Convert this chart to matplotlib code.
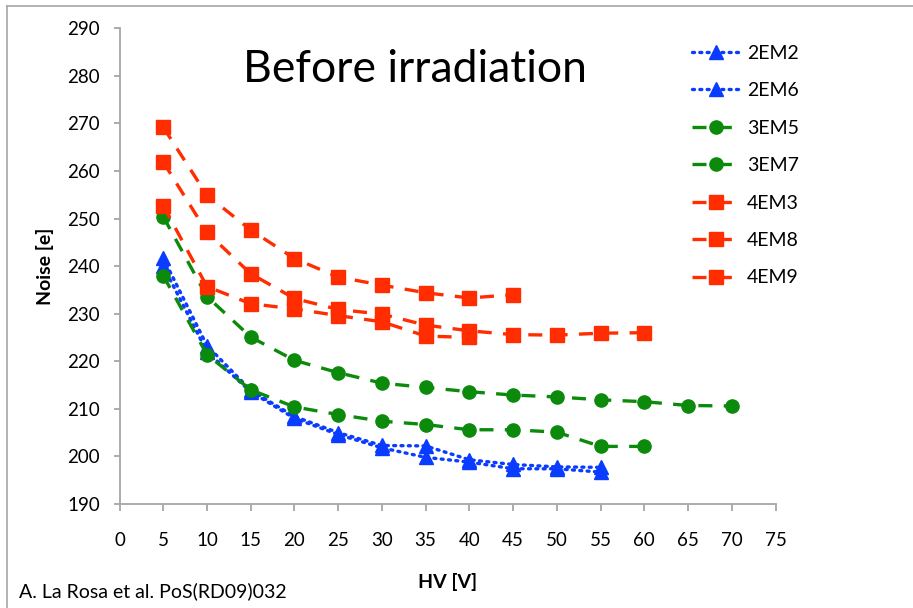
import numpy as np
import matplotlib.pyplot as plt
from matplotlib.lines import Line2D

plt.rcParams['font.family'] = ['Lato', 'DejaVu Sans']

# HV points [V]
hv_55 = [5, 10, 15, 20, 25, 30, 35, 40, 45, 50, 55]
hv_60 = [5, 10, 15, 20, 25, 30, 35, 40, 45, 50, 55, 60]
hv_70 = [5, 10, 15, 20, 25, 30, 35, 40, 45, 50, 55, 60, 65, 70]
hv_45 = [5, 10, 15, 20, 25, 30, 35, 40, 45]
hv_40 = [5, 10, 15, 20, 25, 30, 35, 40]

# noise [e]
em2_2 = [241.7, 223.3, 213.9, 208.4, 205.0, 202.3, 202.2, 199.3, 198.3, 197.8, 197.7]
em2_6 = [240.0, 222.0, 213.6, 208.0, 204.6, 201.8, 199.8, 198.8, 197.4, 197.4, 196.7]
em3_5 = [250.4, 233.6, 225.1, 220.2, 217.6, 215.4, 214.5, 213.6, 212.9, 212.5, 211.9, 211.5, 210.7, 210.6]
em3_7 = [238.0, 221.4, 214.0, 210.4, 208.8, 207.4, 206.7, 205.6, 205.6, 205.1, 202.1, 202.1]
em4_3 = [269.2, 254.9, 247.6, 241.6, 237.7, 236.0, 234.4, 233.3, 234.0]
em4_8 = [261.9, 247.1, 238.4, 233.2, 230.9, 229.9, 227.6, 226.4, 225.6, 225.5, 225.9, 226.0]
em4_9 = [252.7, 235.7, 232.1, 231.0, 229.6, 228.3, 225.3, 225.0]

blue = '#0a3cff'
green = '#0b8a0b'
red = '#ff2d00'

fig = plt.figure(figsize=(9.13, 6.08), dpi=100)
ax = fig.add_axes([0.1309, 0.1711, 0.7185, 0.7824])

dot = dict(linestyle=(0, (0.6, 1.6)), linewidth=2.4, dash_capstyle='round', marker='^', markersize=10)
dash = dict(linestyle=(0, (4.2, 3.4)), linewidth=2.4)

ax.plot(hv_55, em2_2, color=blue, label='2EM2', **dot)
ax.plot(hv_55, em2_6, color=blue, label='2EM6', **dot)
ax.plot(hv_70, em3_5, color=green, marker='o', markersize=9.5, label='3EM5', **dash)
ax.plot(hv_60, em3_7, color=green, marker='o', markersize=9.5, label='3EM7', **dash)
ax.plot(hv_45, em4_3, color=red, marker='s', markersize=9.5, label='4EM3', **dash)
ax.plot(hv_60, em4_8, color=red, marker='s', markersize=9.5, label='4EM8', **dash)
ax.plot(hv_40, em4_9, color=red, marker='s', markersize=9.5, label='4EM9', **dash)

ax.set_xlim(0, 75)
ax.set_ylim(190, 290)
ax.set_xticks(np.arange(0, 80, 5))
ax.set_yticks(np.arange(190, 300, 10))
for s in ['top', 'right']:
    ax.spines[s].set_visible(False)
for s in ['left', 'bottom']:
    ax.spines[s].set_color('#a6a6a6')
    ax.spines[s].set_linewidth(1.3)
ax.tick_params(axis='x', length=5, width=1.3, color='#a6a6a6', pad=15, labelsize=13.5)
ax.tick_params(axis='y', length=4, width=1.3, color='#a6a6a6', pad=10, labelsize=13.5)

ax.set_xlabel('HV [V]', fontsize=14, fontweight='bold')
ax.xaxis.set_label_coords(0.5, -0.145)
ax.set_ylabel('Noise [e]', fontsize=14, fontweight='bold')
ax.yaxis.set_label_coords(-0.1, 0.5)

fig.text(0.455, 0.885, 'Before irradiation', fontsize=32, ha='center', va='center')
fig.text(0.021, 0.028, 'A. La Rosa et al. PoS(RD09)032', fontsize=14, ha='left', va='center')

ax.legend(loc='upper left', bbox_to_anchor=(0.739, 0.955), bbox_transform=fig.transFigure,
          frameon=False, fontsize=14, handlelength=2.4, handletextpad=0.4,
          labelspacing=1.05, numpoints=1)

# outer chart frame
fig.add_artist(Line2D([0.0077, 1.0], [0.990, 0.990], color='#a6a6a6', linewidth=1.2))
fig.add_artist(Line2D([0.0077, 0.0077], [0.0, 0.990], color='#a6a6a6', linewidth=1.2))

fig.savefig('out.png', dpi=100)
